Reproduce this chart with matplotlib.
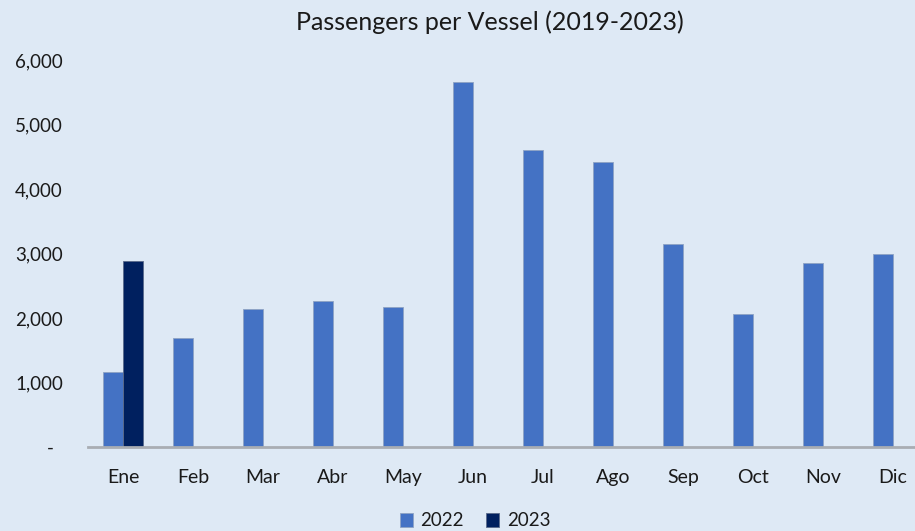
import numpy as np
import matplotlib
matplotlib.use('Agg')
import matplotlib.pyplot as plt

months = ['Ene', 'Feb', 'Mar', 'Abr', 'May', 'Jun', 'Jul', 'Ago', 'Sep', 'Oct', 'Nov', 'Dic']
pax_2022 = [1160, 1690, 2140, 2270, 2170, 5660, 4600, 4420, 3140, 2060, 2850, 3000]
pax_2023 = [2880, 0, 0, 0, 0, 0, 0, 0, 0, 0, 0, 0]
y_ticks = [0, 1000, 2000, 3000, 4000, 5000, 6000]

bg = '#dee9f5'
plt.rcParams['font.family'] = ['Lato', 'DejaVu Sans']

fig = plt.figure(figsize=(9.15, 5.31), dpi=100, facecolor=bg)
# plot area runs a bit past the right edge of the figure
ax = fig.add_axes([88 / 915, 84 / 531, 840 / 915, 387 / 531])
ax.set_facecolor(bg)

x = np.arange(len(months))
w = 0.286
ax.bar(x - w / 2, pax_2022, w, color='#4472c4', label='2022',
       edgecolor='#8ea3c4', linewidth=0.6)
ax.bar(x + w / 2, pax_2023, w, color='#00205f', label='2023',
       edgecolor='#5a6a8a', linewidth=0.6)

ax.set_xlim(-0.5, len(months) - 0.5)
ax.set_ylim(0, 6000)
ax.set_xticks(x)
ax.set_xticklabels(months, fontsize=14, color='#1a1a1a')
ax.set_yticks(y_ticks)
ax.set_yticklabels([f'{v:,}' if v else '-  ' for v in y_ticks], fontsize=13.5, color='#1a1a1a')
ax.tick_params(length=0)
ax.tick_params(axis='x', pad=16)
ax.tick_params(axis='y', pad=18)

for side in ['top', 'right', 'left']:
    ax.spines[side].set_visible(False)
ax.spines['bottom'].set_color('#a9adb3')
ax.spines['bottom'].set_linewidth(2)

fig.text(490 / 915, 1 - 22 / 531, 'Passengers per Vessel (2019-2023)',
         ha='center', va='center', fontsize=18, color='#1a1a1a')

fig.legend(loc='center', bbox_to_anchor=(475 / 915, 1 - 521 / 531), ncol=2,
           frameon=False, fontsize=13.5, handlelength=0.7, handleheight=0.7,
           handletextpad=0.4, columnspacing=1.2, labelcolor='#1a1a1a')

fig.savefig('out.png', dpi=100, facecolor=bg)
